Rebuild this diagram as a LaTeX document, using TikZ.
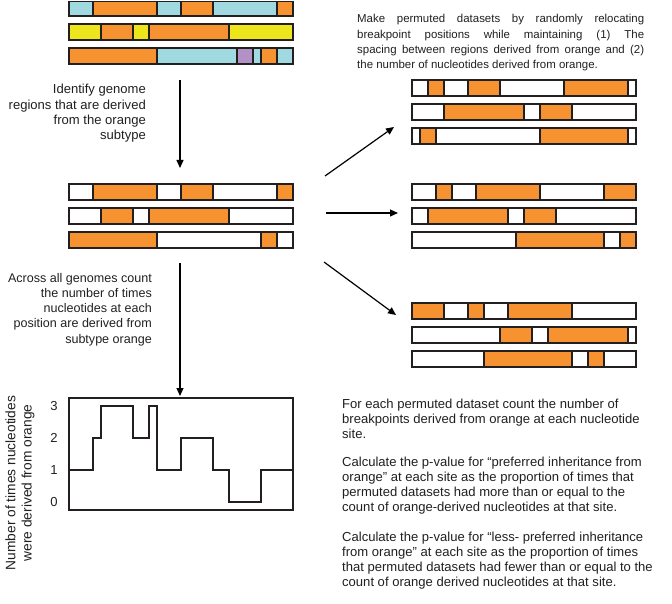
\documentclass[tikz,border=0pt]{standalone}
\usepackage{fontspec}
\setmainfont{Liberation Sans}
\usetikzlibrary{arrows.meta}
\definecolor{org}{RGB}{246,146,48}
\definecolor{cb}{RGB}{160,217,224}
\definecolor{cy}{RGB}{238,230,28}
\definecolor{cp}{RGB}{178,145,198}
\definecolor{ink}{RGB}{35,31,32}
\newcommand\genbar[3]{%
  \foreach \a/\b/\c in {#3} {\draw[seg, fill=\c] (\a,#1) rectangle (\b,#2);}%
}
\begin{document}
\begin{tikzpicture}[x=1bp,y=-1bp,
  seg/.style={draw=ink, line width=1.1bp},
  arr/.style={draw=black, line width=1.2bp, -{Triangle[length=8bp,width=7bp]}},
  txt/.style={font=\fontsize{12.6}{15.3}\selectfont, inner sep=0pt, text=ink},
  txtb/.style={font=\fontsize{13.1}{15.3}\selectfont, inner sep=0pt, text=ink},
  txts/.style={font=\fontsize{11.5}{15.3}\selectfont, inner sep=0pt, text=ink},
  axis/.style={draw=ink, line width=1.2bp}]
\useasboundingbox (0,0) rectangle (672,604);

% ---- top-left genomes
\genbar{1.5}{16}{69/93/cb,93/157/org,157/181/cb,181/213/org,213/277/cb,277/293/org}
\genbar{24}{40}{69/101/cy,101/133/org,133/149/cy,149/229/org,229/293/cy}
\genbar{48}{64}{69/157/org,157/237/cb,237/253/cp,253/261/cb,261/277/org,277/293/cb}

% ---- middle-left genomes
\genbar{184}{200}{69/93/white,93/157/org,157/181/white,181/213/org,213/277/white,277/293/org}
\genbar{208}{224}{69/101/white,101/133/org,133/149/white,149/229/org,229/293/white}
\genbar{232}{248}{69/157/org,157/261/white,261/277/org,277/293/white}

% ---- right permuted datasets
\genbar{80}{96}{412/428/white,428/444/org,444/468/white,468/500/org,500/564/white,564/628/org,628/636/white}
\genbar{104}{120}{412/444/white,444/524/org,524/540/white,540/572/org,572/636/white}
\genbar{128}{144}{412/420/white,420/436/org,436/540/white,540/628/org,628/636/white}

\genbar{184}{200}{412/436/white,436/452/org,452/476/white,476/540/org,540/604/white,604/636/org}
\genbar{208}{224}{412/428/white,428/508/org,508/524/white,524/556/org,556/636/white}
\genbar{232}{248}{412/516/white,516/604/org,604/620/white,620/636/org}

\genbar{303}{319}{412/444/org,444/468/white,468/484/org,484/508/white,508/572/org,572/636/white}
\genbar{327}{343}{412/500/white,500/532/org,532/548/white,548/628/org,628/636/white}
\genbar{351}{367}{412/484/white,484/572/org,572/588/white,588/604/org,604/636/white}

% ---- arrows
\coordinate (a1s) at (180,80);  \coordinate (a1e) at (180,168);
\coordinate (a2s) at (180,263); \coordinate (a2e) at (180,396);
\coordinate (r0)  at (325,176); \coordinate (r1e) at (394,127);
\coordinate (r1)  at (326,213); \coordinate (r2e) at (398,213);
\coordinate (r2)  at (324,262); \coordinate (r3e) at (396,315);
\draw[arr] (a1s) -- (a1e);
\draw[arr] (a2s) -- (a2e);
\draw[arr] (r0) -- (r1e);
\draw[arr] (r1) -- (r2e);
\draw[arr] (r2) -- (r3e);

% ---- left texts
\foreach \y/\t [count=\i] in {94/Identify genome, 109.3/regions that are derived, 124.6/from the orange, 139.9/subtype}
  \node[txtb, anchor=base east] (lt\i) at (146,\y) {\t};
\foreach \y/\t [count=\i] in {282/Across all genomes count, 297.3/the number of times, 312.6/nucleotides at each, 327.9/position are derived from, 343.2/subtype orange}
  \node[txt, anchor=base east] (lb\i) at (152,\y) {\t};

% ---- top-right text
\node[txts, anchor=base west] (tr1) at (357,23) {\makebox[287bp][s]{Make permuted datasets by randomly relocating}};
\node[txts, anchor=base west] (tr2) at (357,38.3) {\makebox[287bp][s]{breakpoint positions while maintaining (1) The}};
\node[txts, anchor=base west] (tr3) at (357,53.6) {\makebox[287bp][s]{spacing between regions derived from orange and (2)}};
\node[txts, anchor=base west] (tr4) at (357,68.9) {the number of nucleotides derived from orange.};

% ---- bottom-right text
\foreach \y/\t [count=\i] in {
  408/For each permuted dataset count the number of,
  423.3/breakpoints derived from orange at each nucleotide,
  438.6/site.,
  466/Calculate the p-value for “preferred inheritance from,
  481.3/orange” at each site as the proportion of times that,
  496.6/permuted datasets had more than or equal to the,
  511.9/count of orange-derived nucleotides at that site.,
  541/Calculate the p-value for “less- preferred inheritance,
  556.3/from orange” at each site as the proportion of times,
  571.6/that permuted datasets had fewer than or equal to the,
  586.9/count of orange derived nucleotides at that site.}
  \node[txtb, anchor=base west] (br\i) at (342,\y) {\t};

% ---- plot
\draw[axis] (69,398) rectangle (293,510);
\draw[axis, line join=miter]
  (69,470) -- (93,470) -- (93,438) -- (101,438) -- (101,406) -- (133,406)
  -- (133,438) -- (149,438) -- (149,406) -- (157,406) -- (157,470)
  -- (181,470) -- (181,438) -- (213,438) -- (213,470) -- (229,470)
  -- (229,502) -- (261,502) -- (261,470) -- (293,470);
\foreach \v/\yy in {3/406,2/438,1/470,0/502}
  \node[txtb] (tk\v) at (54,\yy) {\v};
\node[rotate=90, align=center, inner sep=0pt, text=ink,
      font=\fontsize{13.8}{16.2}\selectfont] (ylab) at (20,483)
  {Number of times nucleotides\\were derived from orange};
\end{tikzpicture}
\end{document}
